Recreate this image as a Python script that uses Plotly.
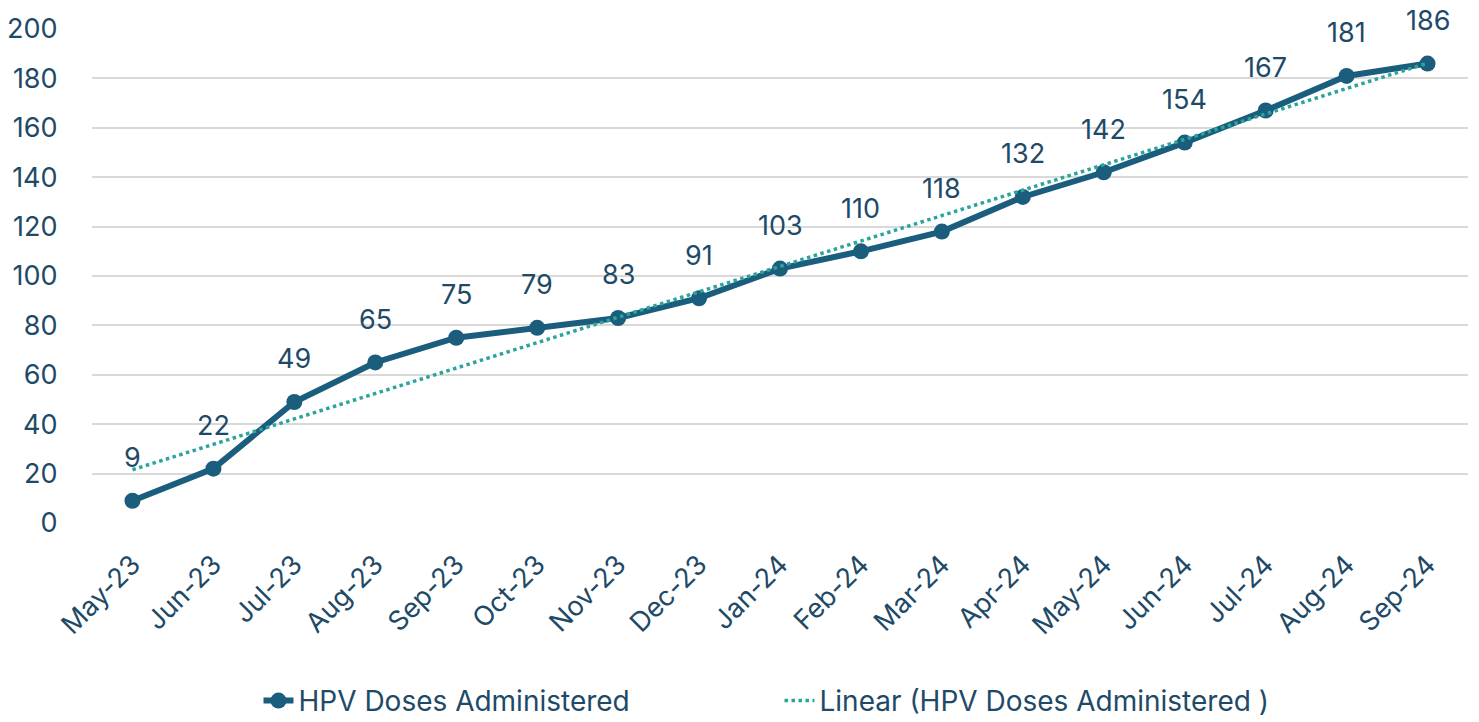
import numpy as np
import plotly.graph_objects as go

months = ["May-23", "Jun-23", "Jul-23", "Aug-23", "Sep-23", "Oct-23", "Nov-23", "Dec-23",
          "Jan-24", "Feb-24", "Mar-24", "Apr-24", "May-24", "Jun-24", "Jul-24", "Aug-24", "Sep-24"]
doses = [9, 22, 49, 65, 75, 79, 83, 91, 103, 110, 118, 132, 142, 154, 167, 181, 186]
y_ticks = [0, 20, 40, 60, 80, 100, 120, 140, 160, 180, 200]

# Linear trendline (least squares fit of the series, as in Excel's "Linear" trendline)
xi = np.arange(len(doses))
slope, intercept = np.polyfit(xi, doses, 1)
trend = (slope * xi + intercept).tolist()

LINE = "#1B5D7D"
TREND = "#2AA59C"
TEXT = "#1E4A68"
FONT = "Inter, Liberation Sans, Arial, sans-serif"

fig = go.Figure()
fig.add_trace(go.Scatter(
    x=months, y=doses, mode="lines+markers", name="HPV Doses Administered",
    line=dict(color=LINE, width=6), marker=dict(size=16, color=LINE),
))
fig.add_trace(go.Scatter(
    x=months, y=trend, mode="lines", name="Linear (HPV Doses Administered )",
    line=dict(color=TREND, width=3.5, dash="dot"),
))

for m, v in zip(months, doses):
    fig.add_annotation(x=m, y=v, text=str(v), showarrow=False, yshift=43,
                       yanchor="middle", font=dict(size=27, color=TEXT, family=FONT))

fig.update_layout(
    width=1479, height=722,
    margin=dict(l=92, r=11, t=29, b=199, autoexpand=False),
    paper_bgcolor="white", plot_bgcolor="white",
    font=dict(family=FONT, color=TEXT, size=27),
    showlegend=True,
    legend=dict(orientation="h", x=0.121, xanchor="left", y=-0.36, yanchor="middle",
                font=dict(size=28, color=TEXT), entrywidth=476,
                bgcolor="rgba(0,0,0,0)"),
)
fig.update_xaxes(
    type="category", range=[-0.5, len(months) - 0.5], tickangle=-45,
    showgrid=False, showline=False, zeroline=False,
    ticks="outside", ticklen=14, tickcolor="rgba(0,0,0,0)", automargin=False,
    tickfont=dict(size=27, color=TEXT, family=FONT),
)
fig.update_yaxes(
    range=[0, 200], tickvals=y_ticks, showgrid=True, gridcolor="#D9D9D9", gridwidth=1.5,
    zeroline=False, showline=False, ticks="outside", ticklen=28, tickcolor="rgba(0,0,0,0)",
    automargin=False, tickfont=dict(size=27, color=TEXT, family=FONT),
)

fig.write_html("out.html", config={"displayModeBar": False},
               post_script="document.body.style.margin='0';document.body.style.overflow='hidden';")
